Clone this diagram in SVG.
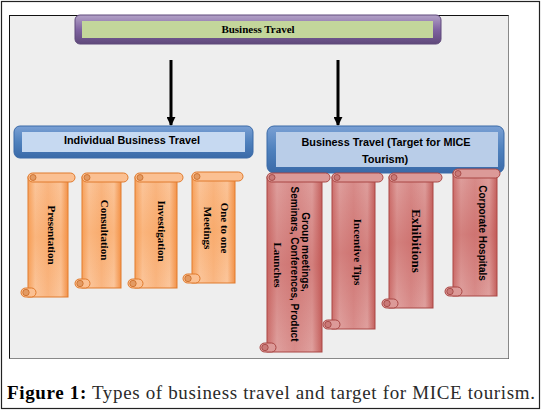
<svg xmlns="http://www.w3.org/2000/svg" width="545" height="414" viewBox="0 0 545 414">
<defs>
<linearGradient id="og" x1="0" y1="0" x2="1" y2="0">
<stop offset="0" stop-color="#f6a15c"/><stop offset="0.18" stop-color="#fbc69c"/><stop offset="0.5" stop-color="#f9b682"/><stop offset="0.82" stop-color="#fbc69c"/><stop offset="1" stop-color="#f29148"/>
</linearGradient>
<linearGradient id="ogv" x1="0" y1="0" x2="0" y2="1">
<stop offset="0" stop-color="#f79646" stop-opacity="0"/><stop offset="0.5" stop-color="#f79646" stop-opacity="0.35"/><stop offset="1" stop-color="#f79646" stop-opacity="0"/>
</linearGradient>
<linearGradient id="rg" x1="0" y1="0" x2="1" y2="0">
<stop offset="0" stop-color="#cc6f6c"/><stop offset="0.18" stop-color="#dfa09e"/><stop offset="0.5" stop-color="#d88c8a"/><stop offset="0.82" stop-color="#dfa09e"/><stop offset="1" stop-color="#c4605d"/>
</linearGradient>
<linearGradient id="rgv" x1="0" y1="0" x2="0" y2="1">
<stop offset="0" stop-color="#c0504d" stop-opacity="0"/><stop offset="0.5" stop-color="#c0504d" stop-opacity="0.4"/><stop offset="1" stop-color="#c0504d" stop-opacity="0"/>
</linearGradient>
<linearGradient id="bg" x1="0" y1="0" x2="0" y2="1">
<stop offset="0" stop-color="#7aa0d4"/><stop offset="0.5" stop-color="#4f81bd"/><stop offset="1" stop-color="#3a6aa8"/>
</linearGradient>
<linearGradient id="pg" x1="0" y1="0" x2="0" y2="1">
<stop offset="0" stop-color="#b3a2c7"/><stop offset="0.5" stop-color="#8064a2"/><stop offset="1" stop-color="#5f497a"/>
</linearGradient>
<marker id="ah" viewBox="0 0 10 10" refX="9" refY="5" markerWidth="3" markerHeight="3" orient="auto" markerUnits="strokeWidth">
<path d="M0,0 L10,5 L0,10 Z" fill="#000"/>
</marker>
<style>
.ob{fill:url(#og);stroke:#e07a2c;stroke-width:1}
.obv{fill:url(#ogv);stroke:none}
.obar{fill:#fbc092;stroke:#e07a2c;stroke-width:1}
.ocurl{fill:#e39a62;stroke:#c96a24;stroke-width:0.8}
.rb{fill:url(#rg);stroke:#a94744;stroke-width:1}
.rbv{fill:url(#rgv);stroke:none}
.rbar{fill:#dc9a98;stroke:#a94744;stroke-width:1}
.rcurl{fill:#c97a78;stroke:#a0403d;stroke-width:0.8}
.st{font-family:"Liberation Serif",serif;font-weight:bold;font-size:11px;fill:#000}
.ss{font-family:"Liberation Sans",sans-serif;font-weight:bold;font-size:10px;fill:#000}
.hs{font-family:"Liberation Sans",sans-serif;font-weight:bold;font-size:11px;fill:#000}
</style>
</defs>
<rect x="1.5" y="1.5" width="538" height="407" fill="#fff" stroke="#222" stroke-width="1.2"/>
<rect x="9.5" y="15.5" width="499" height="343" fill="#eeeeee" stroke="#111" stroke-width="1"/>
<path d="M508.5,15.5 V358.5 H9.5" fill="none" stroke="#888" stroke-width="1"/>

<g id="connectors">
<line x1="171" y1="60" x2="171" y2="125" stroke="#000" stroke-width="3" marker-end="url(#ah)"/>
<line x1="338" y1="60" x2="338" y2="125" stroke="#000" stroke-width="3" marker-end="url(#ah)"/>
</g>

<g id="business-travel">
<rect x="75" y="15" width="366" height="29" rx="5" fill="url(#pg)" stroke="#5f497a" stroke-width="1"/>
<rect x="82" y="21" width="351" height="17" fill="#c3d69b"/>
<text class="st" x="258" y="33" text-anchor="middle">Business Travel</text>
</g>

<g id="individual">
<rect x="14" y="126" width="239" height="32" rx="6" fill="url(#bg)" stroke="#3a6aa8" stroke-width="1"/>
<rect x="22" y="132" width="223" height="20" fill="#c6d9f1"/>
<text class="hs" x="132" y="144" text-anchor="middle" textLength="136" lengthAdjust="spacingAndGlyphs">Individual Business Travel</text>
</g>

<g id="mice">
<rect x="267" y="126" width="237" height="47" rx="7" fill="url(#bg)" stroke="#3a6aa8" stroke-width="1"/>
<rect x="276" y="132" width="222" height="35" fill="#b9cde8"/>
<text class="hs" x="386" y="146" text-anchor="middle" textLength="169" lengthAdjust="spacingAndGlyphs">Business Travel (Target for MICE</text>
<text class="hs" x="385" y="163" text-anchor="middle">Tourism)</text>
</g>

<g id="presentation">
<rect class="ob" x="28" y="177" width="40" height="120"/>
<rect class="obv" x="28" y="177" width="40" height="120"/>
<rect class="obar" x="28" y="173" width="47" height="9" rx="4.5"/>
<circle class="ocurl" cx="33" cy="177.5" r="3"/>
<rect class="obar" x="21" y="288" width="15" height="9" rx="4.5"/>
<circle class="ocurl" cx="26" cy="292.5" r="3.2"/>
<text class="st" transform="translate(52,235) rotate(90)" text-anchor="middle" dy="0.35em">Presentation</text>
</g>

<g id="consultation">
<rect class="ob" x="82" y="177" width="39" height="111"/>
<rect class="obv" x="82" y="177" width="39" height="111"/>
<rect class="obar" x="82" y="173" width="46" height="9" rx="4.5"/>
<circle class="ocurl" cx="87" cy="177.5" r="3"/>
<rect class="obar" x="75" y="279" width="15" height="9" rx="4.5"/>
<circle class="ocurl" cx="80" cy="283.5" r="3.2"/>
<text class="st" transform="translate(105,230) rotate(90)" text-anchor="middle" dy="0.35em">Consultation</text>
</g>

<g id="investigation">
<rect class="ob" x="135" y="177" width="42" height="111"/>
<rect class="obv" x="135" y="177" width="42" height="111"/>
<rect class="obar" x="135" y="173" width="48" height="9" rx="4.5"/>
<circle class="ocurl" cx="140" cy="177.5" r="3"/>
<rect class="obar" x="128" y="279" width="15" height="9" rx="4.5"/>
<circle class="ocurl" cx="133" cy="283.5" r="3.2"/>
<text class="st" transform="translate(162,231) rotate(90)" text-anchor="middle" dy="0.35em">Investigation</text>
</g>

<g id="one-to-one">
<rect class="ob" x="192" y="176" width="43" height="107"/>
<rect class="obv" x="192" y="176" width="43" height="107"/>
<rect class="obar" x="192" y="172" width="51" height="9" rx="4.5"/>
<circle class="ocurl" cx="197" cy="176.5" r="3"/>
<rect class="obar" x="183" y="274" width="17" height="9" rx="4.5"/>
<circle class="ocurl" cx="188" cy="278.5" r="3.2"/>
<text class="st" transform="translate(225,228) rotate(90)" text-anchor="middle" dy="0.35em">One to one</text>
<text class="st" transform="translate(208,228) rotate(90)" text-anchor="middle" dy="0.35em">Meetings</text>
</g>

<g id="group-meetings">
<rect class="rb" x="267" y="177" width="55" height="175"/>
<rect class="rbv" x="267" y="177" width="55" height="175"/>
<rect class="rbar" x="267" y="173" width="63" height="9" rx="4.5"/>
<circle class="rcurl" cx="272" cy="177.5" r="3"/>
<rect class="rbar" x="260" y="343" width="16" height="9" rx="4.5"/>
<circle class="rcurl" cx="265" cy="347.5" r="3.2"/>
<text class="ss" transform="translate(305,252) rotate(90)" text-anchor="middle" dy="0.35em">Group meetings,</text>
<text class="ss" transform="translate(294,264) rotate(90)" text-anchor="middle" dy="0.35em" textLength="155" lengthAdjust="spacingAndGlyphs">Seminars, Conferences, Product</text>
<text class="st" transform="translate(278,265) rotate(90)" text-anchor="middle" dy="0.35em">Launches</text>
</g>

<g id="incentive">
<rect class="rb" x="332" y="177" width="43" height="152"/>
<rect class="rbv" x="332" y="177" width="43" height="152"/>
<rect class="rbar" x="332" y="173" width="51" height="9" rx="4.5"/>
<circle class="rcurl" cx="337" cy="177.5" r="3"/>
<rect class="rbar" x="323" y="320" width="17" height="9" rx="4.5"/>
<circle class="rcurl" cx="328" cy="324.5" r="3.2"/>
<text class="st" transform="translate(358,252) rotate(90)" text-anchor="middle" dy="0.35em">Incentive Tips</text>
</g>

<g id="exhibitions">
<rect class="rb" x="389" y="177" width="44" height="131"/>
<rect class="rbv" x="389" y="177" width="44" height="131"/>
<rect class="rbar" x="389" y="173" width="53" height="9" rx="4.5"/>
<circle class="rcurl" cx="394" cy="177.5" r="3"/>
<rect class="rbar" x="382" y="299" width="16" height="9" rx="4.5"/>
<circle class="rcurl" cx="387" cy="303.5" r="3.2"/>
<text class="st" transform="translate(417,241) rotate(90)" text-anchor="middle" dy="0.35em" style="font-size:13px">Exhibitions</text>
</g>

<g id="corporate">
<rect class="rb" x="453" y="173" width="44" height="123"/>
<rect class="rbv" x="453" y="173" width="44" height="123"/>
<rect class="rbar" x="453" y="169" width="47" height="9" rx="4.5"/>
<circle class="rcurl" cx="458" cy="173.5" r="3"/>
<rect class="rbar" x="445" y="287" width="17" height="9" rx="4.5"/>
<circle class="rcurl" cx="450" cy="291.5" r="3.2"/>
<text class="ss" transform="translate(482,233) rotate(90)" text-anchor="middle" dy="0.35em">Corporate Hospitals</text>
</g>

<text x="7" y="399" font-family="'Liberation Serif',serif" font-size="19" fill="#2a2a2a" textLength="528" lengthAdjust="spacing"><tspan font-weight="bold" fill="#000">Figure 1:</tspan> Types of business travel and target for MICE tourism.</text>
</svg>
